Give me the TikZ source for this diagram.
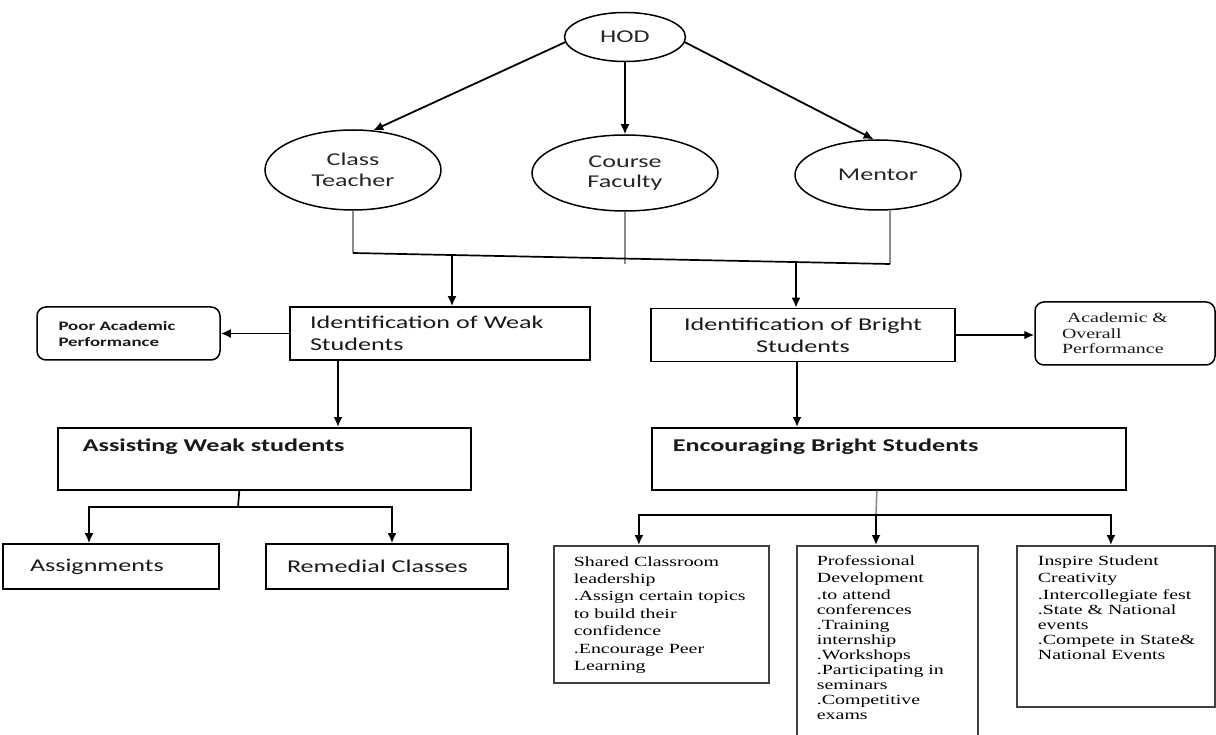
\documentclass[tikz,border=0pt]{standalone}
\usepackage{fontspec}
\setmainfont{Carlito}[FakeStretch=1.45]
\newfontfamily\notefont{Liberation Serif}[FakeStretch=1.42]
\usetikzlibrary{shapes.geometric,arrows.meta,positioning}

\begin{document}
\begin{tikzpicture}[
    x=1pt, y=-1pt,
    font=\fontsize{18}{21}\selectfont,
    role/.style={ellipse, draw, line width=1.5pt, text=black!85, align=center, inner sep=0pt},
    idbox/.style={rectangle, draw, line width=1.7pt, text=black!90, minimum height=53pt, font=\fontsize{18}{22}\selectfont},
    crit/.style={rectangle, draw, rounded corners=9pt, line width=1.5pt, minimum height=53pt, text=black!90},
    taskbox/.style={rectangle, draw, line width=1.7pt, anchor=north west, align=left, inner ysep=10pt, text height=14pt, text depth=28pt, text=black!90, font=\bfseries\fontsize{18}{22}\selectfont},
    leaf/.style={rectangle, draw, line width=1.7pt, minimum height=45pt, align=left, text=black!90},
    detail/.style={rectangle, draw=black!75, line width=1.8pt, anchor=north west, inner xsep=20pt, text=black, font=\notefont},
    line/.style={draw, line width=1.8pt, -{Latex[length=10pt,width=9pt]}},
    bar/.style={draw, line width=1.7pt},
    stub/.style={draw, line width=1.6pt, black!45}
]
\path[use as bounding box] (0,0) rectangle (1216,735);

% Roles
\node[role, minimum width=121pt, minimum height=49pt] (hod) at (625,37) {HOD};
\node[role, minimum width=176pt, minimum height=80pt] (teacher) at (353,170) {Class\\Teacher};
\node[role, minimum width=186pt, minimum height=76pt, font=\fontsize{18}{20}\selectfont] (faculty) at (625,173) {Course\\Faculty};
\node[role, minimum width=166pt, minimum height=70pt] (mentor) at (878,175) {Mentor};

\path[line] (hod.185) -- (teacher.63);
\path[line] (hod.south) -- (faculty.north);
\path[line] (hod.355) -- (mentor.97);

% Joining line
\coordinate (jl) at (353,253);
\coordinate (jr) at (890,264);
\path[stub] (teacher.south) -- (jl);
\path[stub] (faculty.south) -- (faculty.south |- jr);
\path[stub] (mentor.south -| jr) -- (jr);
\path[bar] (jl) -- (jr);

% Identification
\node[idbox, minimum width=300pt, text width=260pt, align=left] (weak) at (440,333.5) {Identification of Weak\\Students};
\node[idbox, minimum width=304pt, text width=280pt, align=center] (bright) at (803,335) {Identification of Bright\\Students};
\node[crit, minimum width=183pt, text width=140pt, align=left, font=\bfseries\fontsize{13}{16}\selectfont] (poor) at (128.5,333.5) {Poor Academic\\Performance};
\node[crit, minimum width=180pt, minimum height=63pt, text width=126pt, align=left, font=\notefont\fontsize{14}{15.5}\selectfont] (overall) at (1125,333.5) {\hspace{5pt}Academic \&\\Overall\\Performance};

\coordinate (jw) at (452,255);
\coordinate (jb) at (796,262);
\path[line] (jw) -- (jw |- weak.north);
\path[line] (jb) -- (jb |- bright.north);
\path[line] (weak.west) -- (poor.east);
\path[line] (bright.east) -- (bright.east -| overall.west);

% Assisting / encouraging
\node[taskbox, minimum width=413pt, text width=363pt, inner xsep=25pt] (assist) at (57,427) {Assisting Weak students};
\node[taskbox, minimum width=474pt, text width=432pt, inner xsep=21pt] (encourage) at (651,427) {Encouraging Bright Students};

\path[line] ([xshift=-102pt]weak.south) -- ([xshift=-102pt]weak.south |- assist.north);
\path[line] ([xshift=-6pt]bright.south) -- ([xshift=-6pt]bright.south |- encourage.north);

% Weak students
\node[leaf, minimum width=216pt, text width=162pt] (tasks) at (111,566.5) {Assignments};
\node[leaf, minimum width=242pt, text width=200pt] (remedial) at (387,566.5) {Remedial Classes};

\coordinate (aw) at (238,507);
\path[bar] ([xshift=-25pt]assist.south) -- (aw);
\path[line] (aw) -| ([xshift=-22pt]tasks.north);
\path[line] (aw) -| ([xshift=5pt]remedial.north);

% Bright students
\node[detail, minimum width=215pt, inner ysep=8pt] (shared) at (553,545) {\parbox[c][121pt][t]{175pt}{\fontsize{14}{17.4}\selectfont
  \begin{tabular}{@{}l@{}}Shared Classroom\\leadership\\.Assign certain topics\\to build their\\confidence\\.Encourage Peer\\Learning\end{tabular}}};
\node[detail, minimum width=181pt, inner ysep=9.5pt] (develop) at (796,545) {\parbox[c][196pt][t]{141pt}{\fontsize{14}{15}\selectfont
  \begin{tabular}{@{}l@{}}Professional\\[2pt]Development\\[2pt].to attend\\conferences\\.Training\\internship\\.Workshops\\.Participating in\\seminars\\.Competitive\\exams\end{tabular}}};
\node[detail, minimum width=198pt, inner xsep=21pt, inner ysep=9.5pt] (inspire) at (1016,545) {\parbox[c][142pt][t]{156pt}{\fontsize{14}{15}\selectfont
  \begin{tabular}{@{}l@{}}Inspire Student\\[2pt]Creativity\\[2pt].Intercollegiate fest\\.State \& National\\events\\.Compete in State\&\\National Events\end{tabular}}};

\coordinate (eb) at (876,515);
\path[stub] ([xshift=-12pt]encourage.south) -- (eb);
\path[line] (eb) -| ([xshift=-22.5pt]shared.north);
\path[line] (eb) -- (eb |- develop.north);
\path[line] (eb) -| ([xshift=-5pt]inspire.north);

\end{tikzpicture}
\end{document}
